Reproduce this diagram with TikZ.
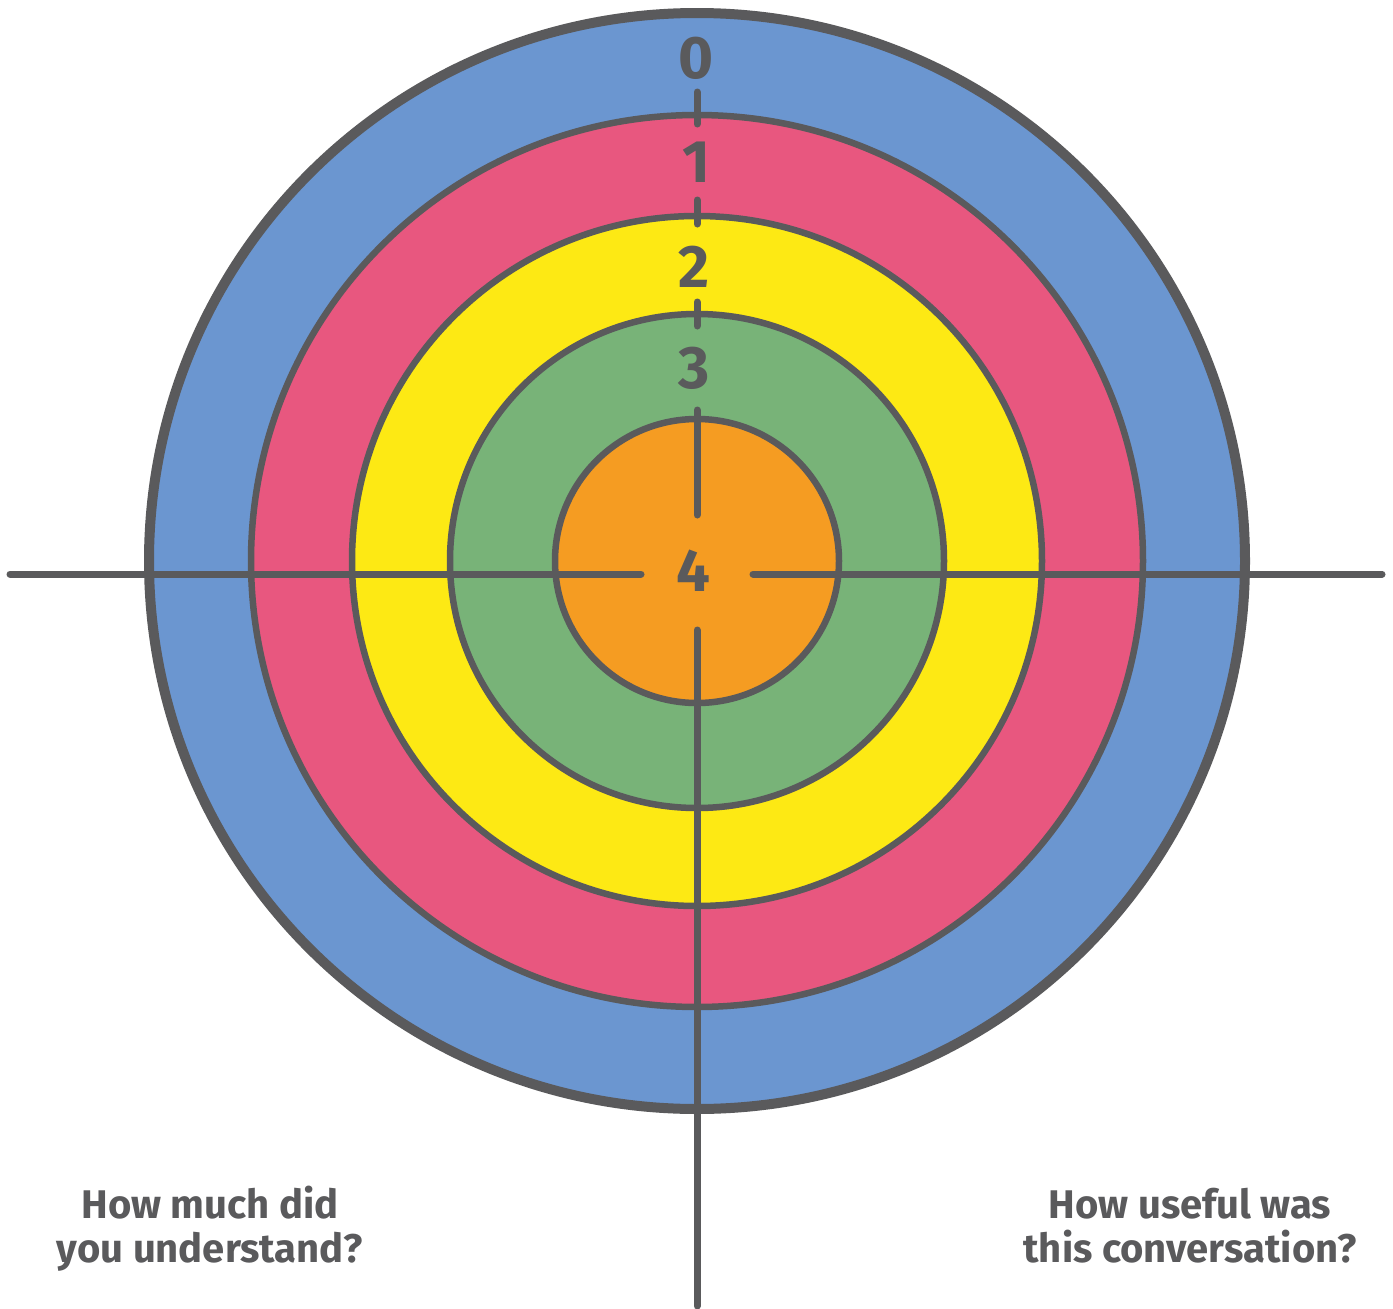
\documentclass[tikz,border=0pt]{standalone}
\usepackage{fontspec}
\setmainfont{Fira Sans}
\definecolor{ink}{HTML}{5A5A5C}
\definecolor{cblue}{HTML}{6B96D0}
\definecolor{cpink}{HTML}{E8577F}
\definecolor{cyellow}{HTML}{FDE914}
\definecolor{cgreen}{HTML}{78B378}
\definecolor{corange}{HTML}{F59C22}
\begin{document}
\begin{tikzpicture}[x=1pt,y=-1pt,
  ring/.style={draw=ink,line width=6.5pt},
  axis/.style={draw=ink,line width=7pt,line cap=round},
  digit/.style={text=ink,font=\fontsize{60}{60}\selectfont\bfseries,anchor=base,inner sep=0pt},
  question/.style={text=ink,font=\fontsize{40}{44}\selectfont\bfseries,anchor=base,inner sep=0pt}]
\useasboundingbox (0,0) rectangle (1393,1309);
\coordinate (c) at (697,561);
\fill[cblue,draw=ink,line width=10pt] (c) circle[radius=548];
\fill[cpink,ring] (c) circle[radius=446];
\fill[cyellow,ring] (c) circle[radius=345];
\fill[cgreen,ring] (c) circle[radius=247];
\fill[corange,ring] (c) circle[radius=142];
% axes
\coordinate (hl1) at (10,574);
\coordinate (hl2) at (641,574);
\coordinate (hr1) at (753,574);
\coordinate (hr2) at (1382,574);
\draw[axis] (hl1) -- (hl2);
\draw[axis] (hr1) -- (hr2);
\coordinate (v1a) at (697,92); \coordinate (v1b) at (697,124);
\coordinate (v2a) at (697,200); \coordinate (v2b) at (697,224);
\coordinate (v3a) at (697,302); \coordinate (v3b) at (697,326);
\coordinate (v4a) at (697,410); \coordinate (v4b) at (697,515);
\coordinate (v5a) at (697,630); \coordinate (v5b) at (697,1306);
\draw[axis] (v1a) -- (v1b);
\draw[axis] (v2a) -- (v2b);
\draw[axis] (v3a) -- (v3b);
\draw[axis] (v4a) -- (v4b);
\draw[axis] (v5a) -- (v5b);
% digits
\node[digit] (d0) at (696,78) {0};
\node[digit] (d1) at (696,182) {1};
\node[digit] (d2) at (694,287) {2};
\node[digit] (d3) at (694,388) {3};
\node[digit] (d4) at (693,591) {4};
% questions
\node[question] (qa1) at (210,1218) {How much did};
\node[question] (qa2) at (210,1262) {you understand?};
\node[question] (qb1) at (1190,1218) {How useful was};
\node[question] (qb2) at (1190,1262) {this conversation?};
\end{tikzpicture}
\end{document}
